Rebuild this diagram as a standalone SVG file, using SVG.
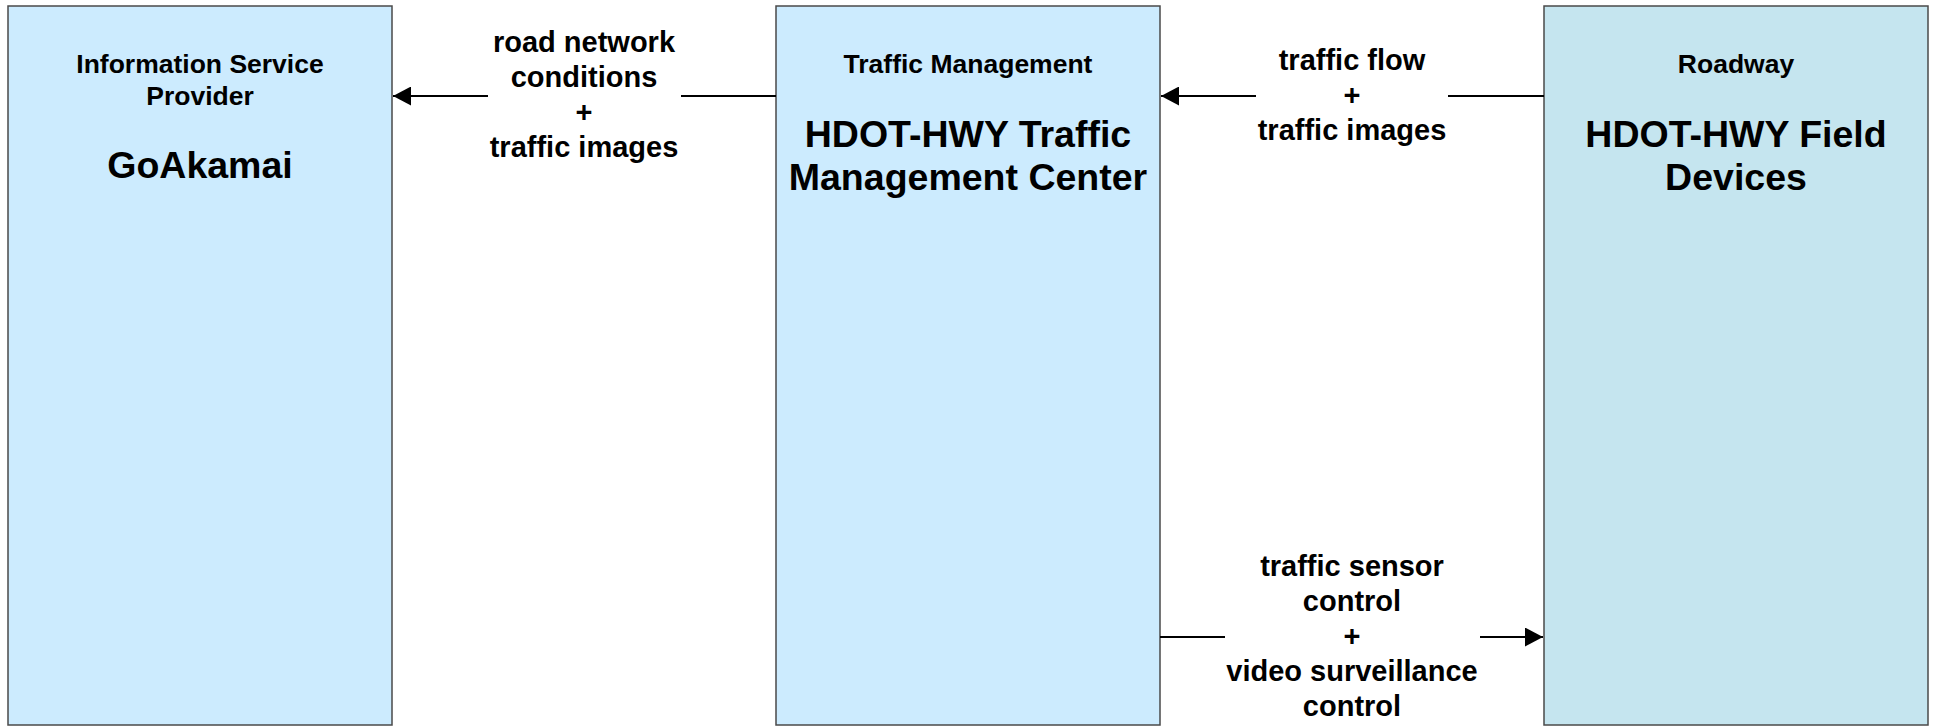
<svg xmlns="http://www.w3.org/2000/svg" width="1939" height="726" viewBox="0 0 1939 726">
<defs>
<style>
text{font-family:"Liberation Sans",Arial,sans-serif;font-weight:bold;fill:#000;text-anchor:middle}
.box{stroke:#4a4a4a;stroke-width:1.5}
.b1{fill:#CCEBFE}
.b3{fill:#C5E5EF}
.hdr{font-size:26.5px}
.big{font-size:37.5px}
.lbl{font-size:29px}
.conn{fill:none;stroke:#000;stroke-width:2}
</style>
<marker id="arr" markerWidth="18" markerHeight="19" refX="18" refY="9.5" orient="auto" markerUnits="userSpaceOnUse">
<path d="M0,0 L18,9.5 L0,19 Z" fill="#000"/>
</marker>
</defs>
<rect width="1939" height="726" fill="#fff"/>
<g id="node-goakamai">
<rect class="box b1" x="8" y="6" width="384" height="719"/>
<text class="hdr" x="200" y="73">Information Service</text>
<text class="hdr" x="200" y="105">Provider</text>
<text class="big" x="200" y="178">GoAkamai</text>
</g>
<g id="node-tmc">
<rect class="box b1" x="776" y="6" width="384" height="719"/>
<text class="hdr" x="968" y="73">Traffic Management</text>
<text class="big" x="968" y="147">HDOT-HWY Traffic</text>
<text class="big" x="968" y="190">Management Center</text>
</g>
<g id="node-field">
<rect class="box b3" x="1544" y="6" width="384" height="719"/>
<text class="hdr" x="1736" y="73">Roadway</text>
<text class="big" x="1736" y="147">HDOT-HWY Field</text>
<text class="big" x="1736" y="190">Devices</text>
</g>
<g id="connectors">
<path class="conn" d="M776,96 H681 M488,96 H393" marker-end="url(#arr)"/>
<path class="conn" d="M1544,96 H1448 M1256,96 H1161" marker-end="url(#arr)"/>
<path class="conn" d="M1160,637 H1225 M1480,637 H1543" marker-end="url(#arr)"/>
<g id="label-1">
<text class="lbl" x="584" y="52">road network</text>
<text class="lbl" x="584" y="87">conditions</text>
<text class="lbl" x="584" y="122">+</text>
<text class="lbl" x="584" y="157">traffic images</text>
</g>
<g id="label-2">
<text class="lbl" x="1352" y="70">traffic flow</text>
<text class="lbl" x="1352" y="105">+</text>
<text class="lbl" x="1352" y="140">traffic images</text>
</g>
<g id="label-3">
<text class="lbl" x="1352" y="576">traffic sensor</text>
<text class="lbl" x="1352" y="611">control</text>
<text class="lbl" x="1352" y="646">+</text>
<text class="lbl" x="1352" y="681">video surveillance</text>
<text class="lbl" x="1352" y="716">control</text>
</g>
</g>
</svg>
